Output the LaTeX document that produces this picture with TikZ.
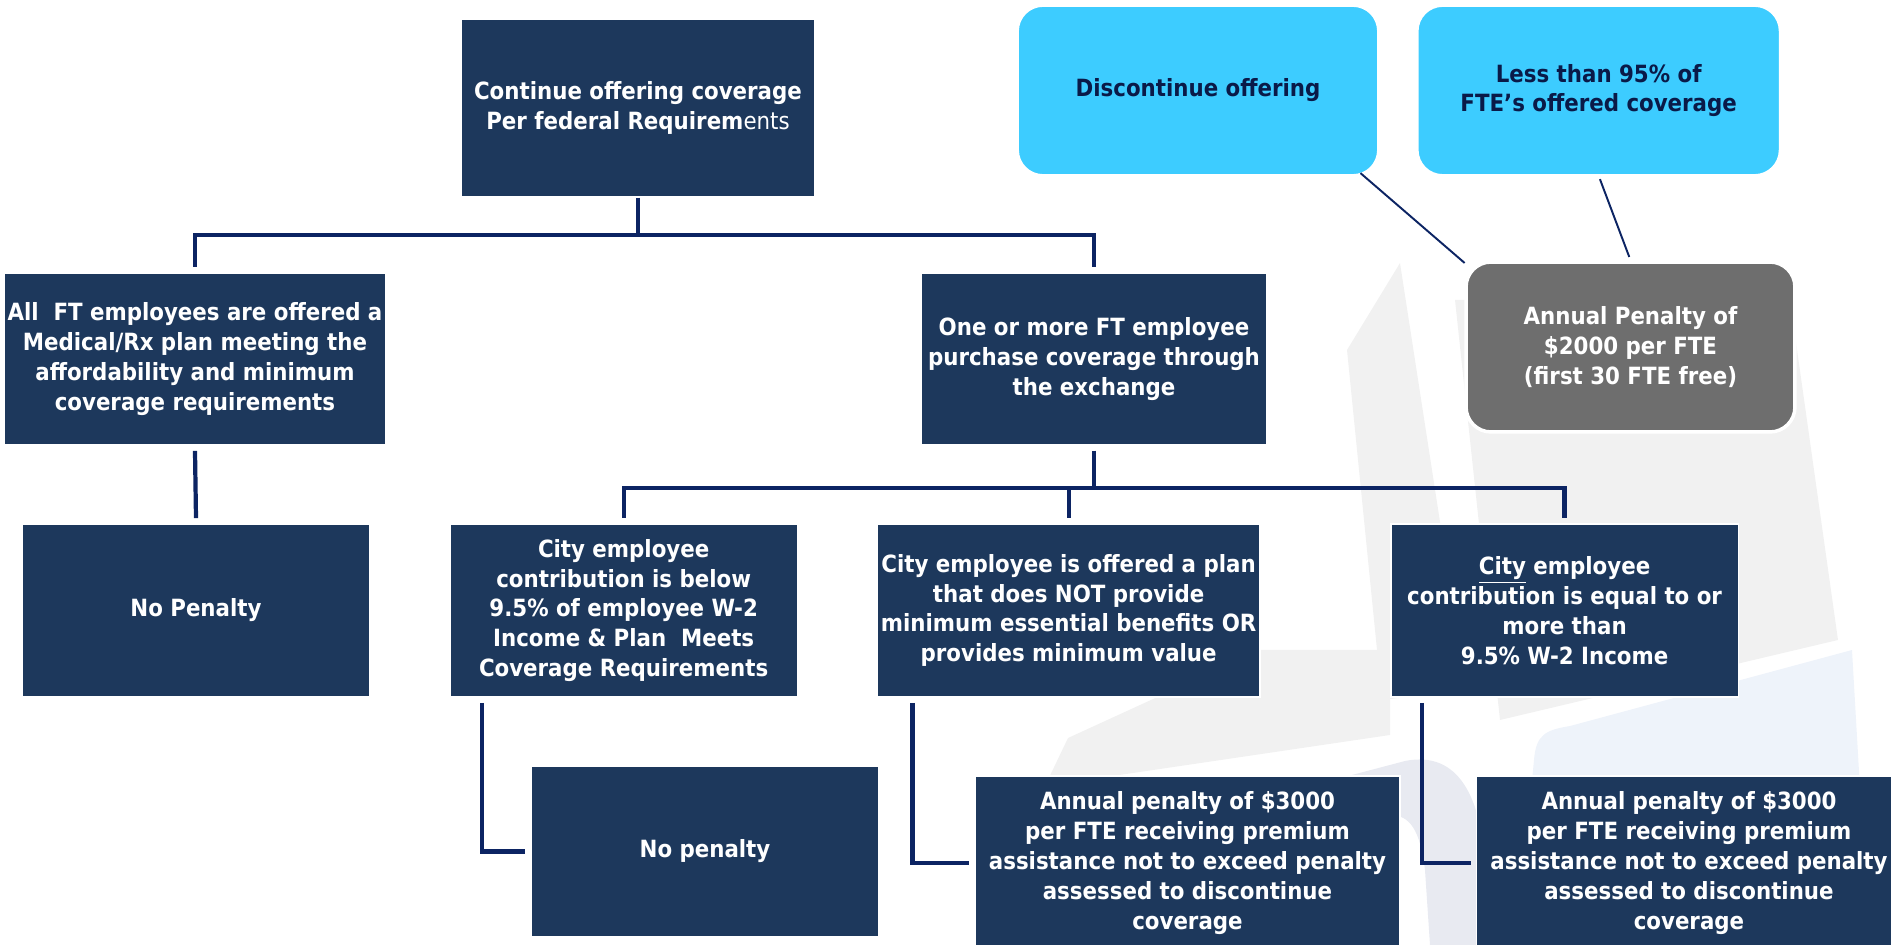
\documentclass[tikz,border=0pt]{standalone}
\usepackage{fontspec}
\setmainfont{DejaVu Sans Condensed}
\usetikzlibrary{positioning}
\definecolor{CityNavy}{RGB}{29,56,92}
\definecolor{LinkBlue}{RGB}{12,36,99}
\definecolor{SkyCyan}{RGB}{61,204,255}
\definecolor{PenaltyGray}{RGB}{110,110,110}
\definecolor{InkNavy}{RGB}{10,26,72}
\definecolor{MarkGray}{RGB}{241,241,241}
\definecolor{MarkSlate}{RGB}{232,234,241}
\definecolor{MarkBlue}{RGB}{238,243,250}

\begin{document}
\begin{tikzpicture}[x=0.02cm, y=-0.02cm, box/.style={fill=CityNavy, draw=white, line width=1pt, text=white, align=center, inner sep=2pt, font=\fontsize{13.5}{17}\selectfont\bfseries}, cyanbox/.style={box, fill=SkyCyan, text=InkNavy, rounded corners=0.5cm}, graybox/.style={box, fill=PenaltyGray, line width=2pt, rounded corners=0.5cm}, link/.style={draw=LinkBlue, line width=2.4pt}, thinlink/.style={draw=LinkBlue, line width=1.1pt, shorten <=2pt, shorten >=2pt}]
\useasboundingbox (0,0) rectangle (1891,945);
\clip (0,0) rectangle (1891,945);

% faint logo in the background
\fill[MarkGray] (1400,263) -- (1347,350) -- (1382,700) -- (1466,690) -- cycle;
\fill[MarkGray] (1045,786) -- (1068,738) -- (1260,650) -- (1390,650) -- (1390,735) -- cycle;
\fill[MarkGray] (1455,300) -- (1790,300) -- (1838,640) -- (1500,720) -- cycle;
\fill[MarkSlate] (1139,857) -- (1136,832) -- (1405,761) .. controls (1460,750) and (1480,800) .. (1485,860) -- (1490,945) -- (1430,945) -- (1425,870) .. controls (1420,830) and (1410,815) .. (1390,815) -- cycle;
\fill[MarkBlue] (1523,945) -- (1523,872) -- (1534,760) .. controls (1536,735) and (1545,730) .. (1570,726) -- (1852,650) -- (1869,945) -- cycle;

\node (cont) [box, minimum width=7.08cm, minimum height=3.56cm] at (638,108) {Continue offering coverage\\Per federal Requirem{\mdseries ents}};
\node (allft) [box, minimum width=7.56cm, minimum height=3.44cm] at (195,359) {All~ FT employees are offered a\\Medical/Rx plan meeting the\\affordability and minimum\\coverage requirements};
\node (onemore) [box, minimum width=6.92cm, minimum height=3.44cm] at (1094,359) {One or more FT employee\\purchase coverage through\\the exchange};
\node (disc) [cyanbox, minimum width=7.2cm, minimum height=3.38cm] at (1198,90.5) {Discontinue offering};
\node (less) [cyanbox, minimum width=7.24cm, minimum height=3.38cm, right=0.76cm of disc] {Less than 95\% of\\FTE’s offered coverage};
\node (fine) [graybox, minimum width=6.58cm, minimum height=3.4cm] at (1630.5,347) {Annual Penalty of\\\$2000 per FTE\\(first 30 FTE free)};

\node (nopen) [box, minimum width=6.96cm, minimum height=3.46cm] at (196,610.5) {No Penalty};
\node (below) [box, minimum width=6.96cm, minimum height=3.46cm, right=1.56cm of nopen] {City employee\\contribution is below\\9.5\% of employee W-2\\Income \& Plan~ Meets\\Coverage Requirements};
\node (offered) [box, minimum width=7.64cm, minimum height=3.46cm, right=1.56cm of below] {City employee is offered a plan\\that does NOT provide\\minimum essential benefits OR\\provides minimum value};
\node (equal) [box, minimum width=6.96cm, minimum height=3.46cm, right=2.58cm of offered] {\underline{City} employee\\contribution is equal to or\\more than\\9.5\% W-2 Income};

\node (nopentwo) [box, minimum width=6.96cm, minimum height=3.42cm] at (705,851.5) {No penalty};
\node (penone) [box, minimum width=8.5cm, minimum height=3.48cm] at (1187.5,863) {Annual penalty of \$3000\\per FTE receiving premium\\assistance not to exceed penalty\\assessed to discontinue\\coverage};
\node (pentwo) [box, minimum width=8.5cm, minimum height=3.48cm] at (1689,863) {Annual penalty of \$3000\\per FTE receiving premium\\assistance not to exceed penalty\\assessed to discontinue\\coverage};

\draw [link] (cont.south) -- ++(0,37) -| ([yshift=0.1cm]allft.north);
\draw [link] (cont.south) -- ++(0,37) -| ([yshift=0.1cm]onemore.north);
\draw [link] ([yshift=-0.1cm]allft.south) -- ([yshift=0.1cm]nopen.north);
\draw [link] ([yshift=-0.1cm]onemore.south) -- ++(0,37) -| ([yshift=0.1cm]below.north);
\draw [link] ([yshift=-0.1cm]onemore.south) -- ++(0,37) -| ([yshift=0.1cm]offered.north);
\draw [link] ([yshift=-0.1cm]onemore.south) -- ++(0,37) -| ([yshift=0.1cm]equal.north);
\draw [link] ([xshift=0.66cm,yshift=-0.1cm]below.south west) |- ([xshift=-0.1cm]nopentwo.west);
\draw [link] ([xshift=0.72cm,yshift=-0.1cm]offered.south west) |- ([xshift=-0.1cm]penone.west);
\draw [link] ([xshift=0.64cm,yshift=-0.1cm]equal.south west) |- ([xshift=-0.1cm]pentwo.west);
\draw [thinlink] ([xshift=-0.42cm,yshift=0.1cm]disc.south east) -- ([xshift=0.06cm,yshift=-0.1cm]fine.north west);
\draw [thinlink] (less.south) -- (fine.north);
\end{tikzpicture}
\end{document}
